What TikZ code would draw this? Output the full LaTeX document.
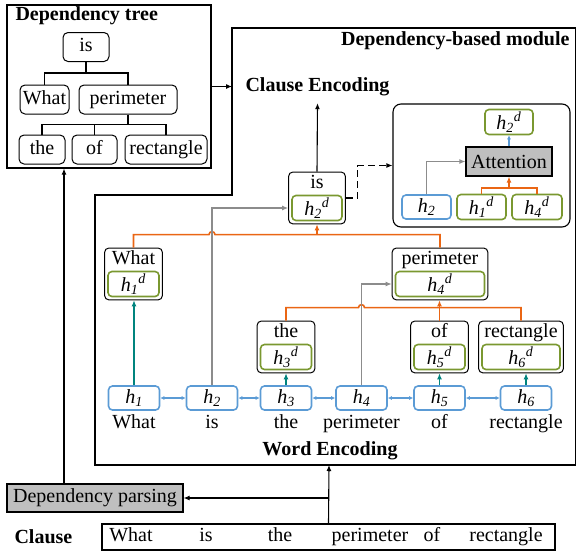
\documentclass[tikz,border=0pt]{standalone}
\usepackage{fontspec}
\setmainfont{LiberationSerif}[Extension=.ttf, UprightFont=*-Regular, BoldFont=*-Bold, ItalicFont=*-Italic, BoldItalicFont=*-BoldItalic]
\usetikzlibrary{arrows.meta,positioning,calc,fit}

\definecolor{hblue}{RGB}{91,155,213}
\definecolor{dgreen}{RGB}{122,152,48}
\definecolor{corange}{RGB}{234,102,20}
\definecolor{cteal}{RGB}{0,132,126}
\definecolor{lgray}{RGB}{191,191,191}
\definecolor{mgray}{RGB}{140,140,140}

\newcommand{\hv}[1]{\textit{h}\textsubscript{\textit{#1}}}
\newcommand{\hd}[1]{\textit{h}\textsubscript{\textit{#1}}\textsuperscript{\textit{d}}}

\tikzset{
  hbox/.style={draw=hblue, line width=1.6pt, rounded corners=4pt, minimum width=51pt, minimum height=24pt, inner sep=0pt},
  dbox/.style={draw=dgreen, line width=1.6pt, rounded corners=4pt, minimum height=25pt, inner sep=0pt},
  wbox/.style={draw, line width=1pt, rounded corners=4pt, inner sep=2.5pt},
  word/.style={inner sep=0pt, text height=13.5pt, text depth=4.5pt},
  tnode/.style={draw, line width=1pt, rounded corners=5pt, minimum height=29pt, inner sep=2pt, text height=13.5pt, text depth=4.5pt},
  title/.style={font=\fontsize{20}{24}\selectfont\bfseries, inner sep=0pt},
  org/.style={corange, line width=1.6pt},
  gry/.style={mgray, line width=1.4pt},
  tl/.style={cteal, line width=1.6pt},
  blu/.style={hblue, line width=1.2pt, >={Latex[length=4pt,width=4pt]}},
}

\begin{document}
\begin{tikzpicture}[x=1pt,y=-1pt,>={Latex[length=6pt,width=5pt]},font=\fontsize{20}{24}\selectfont,line width=1.1pt]
    \useasboundingbox (0,0) rectangle (577,552);

    % dependency tree
    \node[draw, minimum width=204pt, minimum height=163pt, inner sep=0pt] (tree) at (109,86.5) {};
    \node[title, anchor=west] at (15,16) {Dependency tree};
    \node[tnode, minimum width=46pt] (tis)   at (86,47)     {is};
    \node[tnode, minimum width=49pt] (twhat) at (44.5,99.5) {What};
    \node[tnode, minimum width=98pt] (tper)  at (128,99.5)  {perimeter};
    \node[tnode, minimum width=46pt] (tthe)  at (42,149.5)  {the};
    \node[tnode, minimum width=45pt] (tof)   at (94.5,149.5) {of};
    \node[tnode, minimum width=82pt] (trect) at (166,149.5) {rectangle};

    \draw (tis.south) -- ++(0,11) coordinate (tj1) -| (twhat.north);
    \draw (tj1) -| (tper.north);
    \draw (tper.south) -- ++(0,10) coordinate (tj2) -| (tthe.north);
    \draw (tj2) -| (tof.north);
    \draw (tj2) -| (trect.north);

    % dependency-based module
    \draw (232,28) -- (575.5,28) -- (575.5,465) -- (95,465) -- (95,195) -- (232,195) -- cycle;
    \coordinate (modL) at (232,88);
    \coordinate (modB) at (329,465);
    \node[title, anchor=east] at (570,41) {Dependency-based module};
    \node[title] (cenc) at (317.5,87) {Clause Encoding};
    \draw[->] (tree.east) -- (tree.east -| modL);

    % word encoding
    \node[hbox] (h1) at (134,398)   {\hv{1}};
    \node[hbox] (h2) at (212,398)   {\hv{2}};
    \node[hbox] (h3) at (286,398)   {\hv{3}};
    \node[hbox] (h4) at (361.5,398) {\hv{4}};
    \node[hbox] (h5) at (439.5,398) {\hv{5}};
    \node[hbox] (h6) at (526,398)   {\hv{6}};

    \node[word, below=4pt of h1] {What};
    \node[word, below=4pt of h2] {is};
    \node[word, below=4pt of h3] {the};
    \node[word, below=4pt of h4] {perimeter};
    \node[word, below=4pt of h5] {of};
    \node[word, below=4pt of h6] {rectangle};
    \node[title] at (330,451) {Word Encoding};

    \draw[blu,<->] (h1) -- (h2);
    \draw[blu,<->] (h2) -- (h3);
    \draw[blu,<->] (h3) -- (h4);
    \draw[blu,<->] (h4) -- (h5);
    \draw[blu,<->] (h5) -- (h6);

    % dependency states
    \node[dbox, minimum width=51pt] (d1) at (133.5,284) {\hd{1}};
    \node[word, above=1pt of d1] (w1) {What};
    \node[wbox, fit=(d1)(w1)] (f1) {};
    \node[dbox, minimum width=50pt] (d2) at (317,208) {\hd{2}};
    \node[word, above=1pt of d2] (w2) {is};
    \node[wbox, fit=(d2)(w2)] (f2) {};
    \node[dbox, minimum width=51pt] (d3) at (286,357) {\hd{3}};
    \node[word, above=1pt of d3] (w3) {the};
    \node[wbox, fit=(d3)(w3)] (f3) {};
    \node[dbox, minimum width=89pt] (d4) at (440,284) {\hd{4}};
    \node[word, above=1pt of d4] (w4) {perimeter};
    \node[wbox, fit=(d4)(w4)] (f4) {};
    \node[dbox, minimum width=51pt] (d5) at (439.5,357) {\hd{5}};
    \node[word, above=1pt of d5] (w5) {of};
    \node[wbox, fit=(d5)(w5)] (f5) {};
    \node[dbox, minimum width=78pt] (d6) at (521,357) {\hd{6}};
    \node[word, above=1pt of d6] (w6) {rectangle};
    \node[wbox, fit=(d6)(w6)] (f6) {};

    \draw[org] (f1.north) -- ++(0,-13) coordinate (o1) -- ($(o1 -| h2.north)+(-3,0)$) arc(180:360:3) -| (f4.north);
    \draw[org,->] (o1 -| f2.south) -- (f2.south);
    \draw[org] (f3.north) -- ++(0,-13) coordinate (o2) -- ($(o2 -| h4.north)+(-3,0)$) arc(180:360:3) -| (f6.north);
    \draw[org,->] (f5.north) -- (f5.north |- f4.south);

    \draw[gry,->] (h2.north) |- (d2.west -| f2.west);
    \draw[gry,->] (h4.north) |- (d4.west -| f4.west);

    \draw[tl,->] (h1.north) -- (h1.north |- f1.south);
    \draw[tl,->] (h3.north) -- (h3.north |- f3.south);
    \draw[tl,->] (h5.north) -- (h5.north |- f5.south);
    \draw[tl,->] (h6.north) -- (h6.north |- f6.south);

    \draw[->] (f2.north) -- ([yshift=-6.5pt]cenc.south);

    % attention
    \node[draw, rounded corners=8pt, minimum width=177pt, minimum height=123pt] (attm) at (481.5,165.5) {};
    \node[dbox, minimum width=48pt] (ao) at (509,122) {\hd{2}};
    \node[draw, fill=lgray, minimum width=86pt, minimum height=29pt, inner sep=0pt] (att) at (509,161.5) {Attention};
    \node[hbox, minimum width=49pt] (a2) at (426.5,207) {\hv{2}};
    \node[dbox, minimum width=49pt] (a1) at (481.5,207) {\hd{1}};
    \node[dbox, minimum width=50pt] (a4) at (537,207)   {\hd{4}};

    \draw[gry,->] (a2.north) |- (att.west);
    \draw[org] (a1.north) -- ++(0,-6) coordinate (o3) -| (a4.north);
    \draw[org,->] (o3 -| att.south) -- (att.south);
    \draw[blu,->] (att.north) -- (ao.south);
    \draw[dash pattern=on 7pt off 4pt,->] (f2.east) -- ++(12,0) |- (attm.west);

    % input clause
    \node[draw, fill=lgray, minimum width=176pt, minimum height=28pt, inner sep=0pt, text height=13.5pt, text depth=4.5pt] (parse) at (95,498) {Dependency parsing};
    \node[draw, minimum width=453pt, minimum height=26pt] (clause) at (328.5,537) {};
    \foreach \w/\x in {What/131,is/206,the/280,perimeter/370,of/432,rectangle/506}
        \node[word] at (\x,537) {\w};
    \node[title, anchor=west] at (14,537) {Clause};

    \draw[->] (clause.north) -- (modB);
    \draw[->] (clause.north |- parse.east) -- (parse.east);
    \draw[->] ([xshift=-31pt]parse.north) -- ([xshift=-31pt]parse.north |- tree.south);
\end{tikzpicture}
\end{document}
